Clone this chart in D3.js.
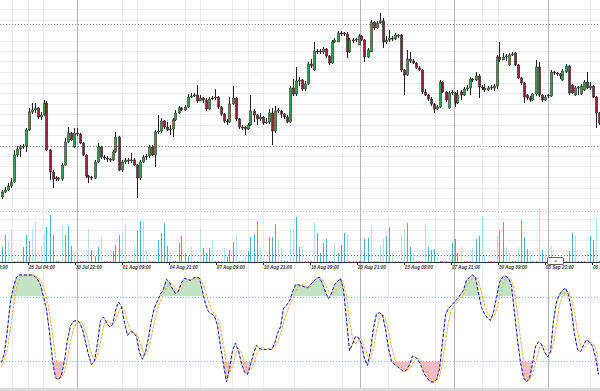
<!DOCTYPE html>
<html><head><meta charset="utf-8">
<script src="https://cdn.jsdelivr.net/npm/d3@7"></script>
<style>html,body{margin:0;padding:0;background:#fff;overflow:hidden}</style>
</head><body><svg id="c" width="600" height="391"></svg>
<script>
// ---- DATA (price in instrument points, volume in lots, stochastic 0..100) ----
const open=[103,108,110,114,118,145,151,153,154,170,188,190,192,183,185,197,150,128,121,122,121,135,158,167,153,167,166,157,145,124,123,122,138,153,143,142,141,140,148,163,130,138,140,139,140,135,122,138,143,144,153,145,168,169,179,173,170,171,180,187,192,190,193,203,204,205,199,202,200,191,201,202,203,193,186,179,178,196,202,181,
173,
173,171,175,189,185,181,183,177,178,187,
169,189,189,186,183,178,212,206,219,220,211,
216,236,230,249,248,248,251,244,237,258,258,
267,266,266,248,260,260,255,264,260,243,248,
278,272,277,279,258,260,262,261,265,
265,230,225,241,239,237,232,230,208,205,201,196,191,193,218,208,192,207,207,197,208,205,211,212,221,220,224,213,212,210,212,212,214,243,240,243,235,245,247,235,222,217,205,202,200,206,233,205,200,205,204,228,227,226,220,228,234,215,205,212,206,210,218,212,214,203,187];
const close=[108,110,114,118,145,151,153,154,170,188,190,192,183,185,197,150,128,121,122,121,135,158,167,160,167,166,157,145,124,123,122,138,153,143,142,141,140,148,163,130,138,140,139,140,135,122,138,143,144,153,145,168,169,179,173,170,171,180,187,192,190,193,203,204,205,199,202,200,191,201,202,203,193,186,179,178,196,202,181,173,
172,
171,175,189,185,181,183,177,178,187,169,
189,190,186,183,178,212,206,219,220,211,216,
236,234,249,248,249,251,244,237,258,260,267,
266,267,248,260,259,261,264,260,243,250,278,
272,277,279,258,260,262,261,265,264,
230,225,241,239,237,232,230,208,205,201,196,191,193,218,208,200,207,208,197,205,205,211,212,221,220,224,213,212,210,212,213,214,243,240,243,244,245,246,235,222,217,203,202,200,206,233,205,200,203,204,228,227,226,224,229,234,207,207,212,213,214,218,212,214,203,187,177];
const high=[110,113,117,122,150,154,155,156,172,192,197,197,193,188,200,199,151,130,124,123,137,162,173,168,172,172,167,158,146,125,124,140,157,154,145,144,142,150,168,164,140,142,142,147,142,136,140,145,146,155,155,170,185,182,180,178,175,182,190,194,193,195,206,207,207,215,205,203,202,203,204,211,204,194,187,181,203,214,203,182,
175,
174,177,205,191,186,187,184,182,191,192,
194,192,190,187,185,214,221,233,223,221,219,
238,241,258,251,251,253,252,245,260,262,269,
269,268,268,262,262,262,266,265,261,252,280,
279,279,287,282,264,270,264,267,266,
266,231,250,248,241,238,234,231,211,206,203,197,195,220,219,209,209,210,208,210,210,213,215,223,222,228,226,215,216,214,215,216,245,258,247,246,247,248,248,236,223,218,206,204,207,240,238,206,205,206,230,229,228,227,231,236,235,216,214,214,216,220,228,218,215,204,188];
const low=[101,107,109,112,117,143,143,151,148,169,186,187,181,180,184,149,120,112,119,119,119,134,157,159,152,164,156,144,122,117,120,121,137,141,140,138,138,139,147,129,128,136,136,137,134,102,120,137,140,142,144,133,166,167,171,169,165,163,179,186,189,189,192,202,203,197,199,197,189,190,200,200,191,184,177,175,177,195,179,171,
170,
165,170,174,178,175,179,175,176,176,155,
167,187,182,181,177,177,204,204,214,209,209,
215,232,229,246,246,246,242,235,236,257,258,
264,264,242,247,257,258,255,259,238,242,248,
270,271,276,252,256,258,259,260,262,
228,205,224,237,236,231,229,206,204,199,194,187,190,192,207,198,191,205,193,196,200,204,209,205,218,219,202,210,208,209,210,209,211,238,240,239,234,244,234,221,215,197,200,198,199,204,203,198,199,202,203,225,224,221,219,227,205,206,204,205,205,209,211,210,202,172,175];
const volume=[290,520,420,650,20,20,20,290,520,420,670,780,20,320,560,690,930,530,20,20,710,530,710,320,180,20,20,20,20,650,240,120,300,500,20,20,20,220,330,530,570,730,20,20,320,610,800,800,240,20,20,20,430,570,770,320,200,20,20,380,510,180,120,300,20,20,660,270,180,270,410,20,20,20,270,100,240,400,530,20,20,120,220,500,550,810,300,20,20,500,500,750,430,270,20,20,650,650,890,300,320,20,20,20,790,570,180,370,450,20,20,380,180,330,570,540,20,20,20,20,20,450,480,710,20,20,330,450,510,690,180,20,20,530,640,770,300,180,20,20,20,770,290,240,250,200,20,20,20,180,380,450,180,300,20,20,20,270,450,510,900,140,20,20,20,510,630,790,300,180,20,20,300,820,500,250,160,20,20,1030,240,160,20,320,20,20,20,20,20,220,570,530,20,20,20,200,510,440,860,20];
const lightVolumeIdx=[2,3,10,11,13,14,20,24,29,33,40,41,44,47,48,56,63,66,70,74,78,81,86,92,93,96,97,100,104,111,115,123,126,127,130,133,134,137,141,145,149,153,157,160,161,165,168,169,172,176,179,181,183,191,195,198];
const stochK=[19,28,50,76,89,98,100,100,100,100,100,99,96,91,80,68,47,21,5,3,7,21,40,53,57,58,56,50,38,26,17,20,37,58,61,56,52,54,67,75,71,56,44,47.5,47,43,28,22,29,42,58,70,76,82,87,96,93,87,83,85,93,97,96,95,97,98,97,85,73,66,64,62,53,34,17,1,13,30,37,30,18,10,8,17,27,35,32,31,31,31.5,31,36,46,52,69,72,76,84,91,91,90,89,88,91,94,97,98,92,84,78,83,91,94,97,86,59,30,36,43,42,36,22,16,30,51,64,65,63,50,32,20,17,15,13,10.5,12,17,25,24,21,15,8,4,1,1,3,13,38,63,69,72,75,78,82,86,95,98,100,98,83,70,64,60,58,66,79,93,98,99,97,90,65,40,19,5,1,4,18,34,38,36,29,24,29,58,75,82,86,88,82,67,45,31,29,35,40,38,34,24,8];
const stochD=[15,22,32,51,72,88,96,99,100,100,100,100,98,95,89,80,65,45,24,10,5,10,23,38,50,56,57,55,48,38,27,21,25,38,52,58,56,54,58,65,71,67,57,49,46,46,39,31,26,31,43,57,68,76,82,88,92,92,88,85,87,92,95,96,96,97,97,93,85,75,68,64,60,50,35,17,10,15,27,32,28,19,12,12,17,26,31,33,31,31,31,33,38,45,56,64,72,77,84,89,91,90,89,89,91,94,96,96,91,85,82,84,89,94,92,81,58,42,36,40,40,33,25,23,32,48,60,64,59,48,34,23,17,15,13,12,13,18,22,23,20,15,9,4,2,2,6,18,38,57,68,72,75,78,82,88,93,98,99,94,84,72,65,61,61,68,79,90,97,98,95,84,65,41,21,8,3,8,19,30,36,34,30,27,37,54,72,81,85,85,79,65,48,35,32,35,38,37,32,22];
const tickIdx=[-6.95,8.73,24.4,40.07,55.75,71.4,87.1,102.8,118.4,134.1,149.8,165.5,181.1,196.8];
const tickLabels=["23 Jul 16:00","26 Jul 04:00","30 Jul 22:00","01 Aug 09:00","04 Aug 21:00","07 Aug 09:00","10 Aug 21:00","16 Aug 09:00","20 Aug 21:00","23 Aug 09:00","27 Aug 21:00","30 Aug 09:00","03 Sep 21:00","06 Sep 09:00"];
const separatorIdx=[25.2,119.5,150.8,182.2];
const gridIdx=[3.5,8.8,13.8,40.2,45.2,61.2,66.2,76.8,82.2,87.2,97.5,113.5,128.8,144.5,160.2,165.5,196.2];
const priceLevels=[276,154];
const volumeLevels=[1000,137];
const oscLevels=[80,20];

// ---- CHART ----
const svg=d3.select("#c");
const N=close.length;
const x=d3.scaleLinear().domain([0,N-1]).range([1.5,598.5]);
const yP=d3.scaleLinear().domain([300,38]).range([0,262]);
const yV=d3.scaleLinear().domain([0,1000]).range([262,211]);
const yO=d3.scaleLinear().domain([0,100]).range([383,275]);
const lightSet=new Set(lightVolumeIdx);

const g=svg.append("g").attr("shape-rendering","crispEdges");
g.selectAll(".hg").data(d3.range(291,38,-10.5)).join("line")
 .attr("x1",0).attr("x2",600).attr("y1",d=>Math.round(yP(d))+0.5).attr("y2",d=>Math.round(yP(d))+0.5)
 .attr("stroke","#ececec");
g.selectAll(".vg").data(gridIdx).join("line")
 .attr("x1",d=>Math.round(x(d))+0.5).attr("x2",d=>Math.round(x(d))+0.5).attr("y1",0).attr("y2",388)
 .attr("stroke","#ececec");
g.selectAll(".sp").data(separatorIdx).join("line")
 .attr("x1",d=>Math.round(x(d))+0.5).attr("x2",d=>Math.round(x(d))+0.5).attr("y1",0).attr("y2",388)
 .attr("stroke","#b4b4b4");
svg.selectAll(".pl").data(priceLevels).join("line")
 .attr("x1",0).attr("x2",600).attr("y1",d=>Math.round(yP(d))+0.5).attr("y2",d=>Math.round(yP(d))+0.5)
 .attr("stroke","#9a80b4").attr("stroke-dasharray","1,2");
svg.selectAll(".vl").data(volumeLevels).join("line")
 .attr("x1",0).attr("x2",600).attr("y1",d=>Math.round(yV(d))+0.5).attr("y2",d=>Math.round(yV(d))+0.5)
 .attr("stroke",(d,i)=>i?"#7a5a92":"#c4b0d4").attr("stroke-dasharray","1,2");
svg.append("g").attr("shape-rendering","crispEdges").selectAll("rect").data(volume).join("rect")
 .attr("x",(d,i)=>Math.round(x(i))).attr("width",1)
 .attr("y",d=>yV(d)).attr("height",d=>262-yV(d))
 .attr("fill",(d,i)=>lightSet.has(i)?"#b0e0ea":"#4cb0c7");
const cg=svg.append("g");
const idx=d3.range(N);
cg.selectAll("line").data(idx).join("line")
 .attr("x1",i=>Math.round(x(i))+0.5).attr("x2",i=>Math.round(x(i))+0.5)
 .attr("y1",i=>yP(high[i])).attr("y2",i=>yP(low[i]))
 .attr("stroke","#1e1e1e").attr("stroke-width",1);
cg.selectAll("rect").data(idx).join("rect")
 .attr("x",i=>Math.round(x(i))-0.5).attr("width",2.2)
 .attr("y",i=>yP(Math.max(open[i],close[i])))
 .attr("height",i=>Math.max(1,Math.abs(yP(open[i])-yP(close[i]))))
 .attr("fill",i=>close[i]>=open[i]?"#3c9c4e":"#8a2538")
 .attr("stroke","#1e1e1e").attr("stroke-width",0.5);
svg.append("line").attr("x1",0).attr("x2",600).attr("y1",262.5).attr("y2",262.5).attr("stroke","#333");
svg.selectAll(".tk").data(tickIdx).join("line")
 .attr("x1",d=>Math.round(x(d))+0.5).attr("x2",d=>Math.round(x(d))+0.5).attr("y1",262).attr("y2",265)
 .attr("stroke","#333");
svg.selectAll(".tl").data(tickIdx).join("text")
 .attr("x",d=>x(d)+1).attr("y",268.5).text((d,i)=>tickLabels[i])
 .attr("font-family","Liberation Sans, Arial, sans-serif").attr("font-size",4.6)
 .attr("font-style","italic").attr("font-weight","bold").attr("fill","#333");

const defs=svg.append("defs");
defs.append("clipPath").attr("id","above").append("rect").attr("x",0).attr("y",270).attr("width",600).attr("height",yO(80)-270);
defs.append("clipPath").attr("id","below").append("rect").attr("x",0).attr("y",yO(20)).attr("width",600).attr("height",388-yO(20));
const areaHi=d3.area().x((d,i)=>x(i)).y0(yO(80)).y1(d=>yO(d));
const areaLo=d3.area().x((d,i)=>x(i)).y0(yO(20)).y1(d=>yO(d));
svg.append("path").attr("d",areaHi(stochK)).attr("fill","#c3e3c3").attr("clip-path","url(#above)");
svg.append("path").attr("d",areaLo(stochK)).attr("fill","#f8bcc2").attr("clip-path","url(#below)");
svg.selectAll(".ol").data(oscLevels).join("line")
 .attr("x1",0).attr("x2",600).attr("y1",d=>Math.round(yO(d))+0.5).attr("y2",d=>Math.round(yO(d))+0.5)
 .attr("stroke","#7cc6d6").attr("stroke-dasharray","1,2");
const line=d3.line().x((d,i)=>x(i)).y(d=>yO(d));
svg.append("path").attr("d",line(stochD)).attr("fill","none").attr("stroke","#f9dcae").attr("stroke-width",0.8);
svg.append("path").attr("d",line(stochD)).attr("fill","none").attr("stroke","#f0a636").attr("stroke-width",1).attr("stroke-dasharray","2,2");
svg.append("path").attr("d",line(stochK)).attr("fill","none").attr("stroke","#a8a8e6").attr("stroke-width",0.8);
svg.append("path").attr("d",line(stochK)).attr("fill","none").attr("stroke","#1a1a9a").attr("stroke-width",1).attr("stroke-dasharray","3,2");
svg.append("rect").attr("x",0).attr("y",388).attr("width",600).attr("height",3).attr("fill","#d8dadc");
const b=svg.append("g");
b.append("rect").attr("x",547.5).attr("y",257.5).attr("width",16).attr("height",7).attr("rx",1)
 .attr("fill","#fff").attr("stroke","#333").attr("stroke-width",0.8);
b.append("text").attr("x",555.5).attr("y",263).attr("text-anchor","middle").attr("font-size",6)
 .attr("font-family","DejaVu Sans, sans-serif").attr("fill","#333").text("»");
</script></body></html>
